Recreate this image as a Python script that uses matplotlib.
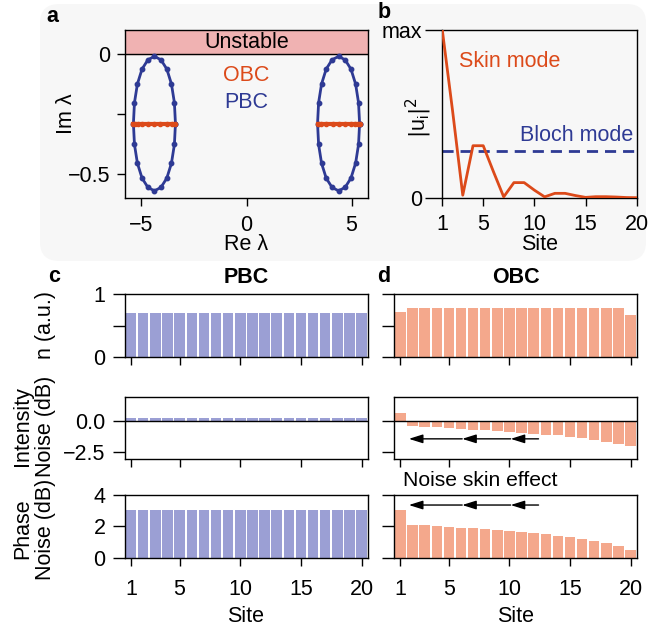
import numpy as np
import matplotlib
matplotlib.use("Agg")
import matplotlib.pyplot as plt
from matplotlib.patches import FancyBboxPatch

FS = 15.5
plt.rcParams['font.family'] = ['Liberation Sans', 'DejaVu Sans']
plt.rcParams['font.size'] = FS
plt.rcParams['axes.linewidth'] = 1.0
plt.rcParams['xtick.major.width'] = 1.0
plt.rcParams['ytick.major.width'] = 1.0

# ---------------- data ----------------
# panel a: eigenvalues (PBC ellipses and OBC segments)
pbc_left_re = [-3.38, -3.43, -3.57, -3.79, -4.07, -4.38, -4.69, -4.97, -5.19, -5.33,
               -5.38, -5.33, -5.19, -4.97, -4.69, -4.38, -4.07, -3.79, -3.57, -3.43]
pbc_im = [-0.29, -0.203, -0.125, -0.063, -0.024, -0.01, -0.024, -0.063, -0.125, -0.203,
          -0.29, -0.377, -0.455, -0.517, -0.556, -0.57, -0.556, -0.517, -0.455, -0.377]
pbc_right_re = [5.38, 5.33, 5.19, 4.97, 4.69, 4.38, 4.07, 3.79, 3.57, 3.43,
                3.38, 3.43, 3.57, 3.79, 4.07, 4.38, 4.69, 4.97, 5.19, 5.33]
obc_left_re = [-5.38, -5.3, -5.15, -4.95, -4.7, -4.4, -4.1, -3.8, -3.55, -3.4]
obc_right_re = [3.4, 3.55, 3.8, 4.1, 4.4, 4.7, 4.95, 5.15, 5.3, 5.38]
obc_im = [-0.29] * 10

# panel b: mode profiles
sites = list(range(1, 21))
skin_mode = [1.0, 0.52, 0.015, 0.31, 0.31, 0.155, 0.005, 0.09, 0.09, 0.045,
             0.005, 0.026, 0.026, 0.013, 0.002, 0.006, 0.006, 0.004, 0.001, 0.0]
bloch_mode = 0.278

# panels c/d
n_pbc = [0.70] * 20
n_obc = [0.72, 0.785, 0.785, 0.785, 0.785, 0.785, 0.785, 0.785, 0.785, 0.785,
         0.785, 0.785, 0.785, 0.785, 0.785, 0.785, 0.785, 0.785, 0.78, 0.67]
int_pbc = [0.32] * 20
int_obc = [0.65, -0.40, -0.42, -0.48, -0.54, -0.59, -0.65, -0.70, -0.78, -0.83,
           -0.89, -0.97, -1.05, -1.13, -1.24, -1.34, -1.48, -1.64, -1.80, -1.94]
phase_pbc = [3.04] * 20
phase_obc = [3.04, 2.06, 2.08, 2.00, 1.96, 1.91, 1.87, 1.81, 1.77, 1.70,
             1.64, 1.57, 1.49, 1.40, 1.32, 1.19, 1.06, 0.91, 0.74, 0.49]
site_ticks = [1, 5, 10, 15, 20]
arrow_x = [12.4, 10.1, 6.1, 1.7]
arrow_y_int = -1.4
arrow_y_phase = 3.36

# ---------------- style ----------------
BLUE = '#2e3a94'
ORANGE = '#dc4a1a'
PBC_BAR = '#9b9fd4'
OBC_BAR = '#f4a88c'
PINK = '#f0b2b2'
BG = '#f7f7f7'

W, H = 648, 627
fig = plt.figure(figsize=(W / 100, H / 100), dpi=100)


def rect(l, t, r, b):
    return [l / W, 1 - b / H, (r - l) / W, (b - t) / H]


# background box behind top panels
bg = FancyBboxPatch((40 / W, 1 - 261 / H), 606 / W, 257 / H,
                    boxstyle='round,pad=0,rounding_size=0.03',
                    transform=fig.transFigure, facecolor=BG,
                    edgecolor='none', zorder=-10)
fig.patches.append(bg)

# ---------------- panel a ----------------
axa = fig.add_axes(rect(125, 30, 368, 198))
axa.set_facecolor('none')
axa.set_xlim(-5.78, 5.78)
axa.set_ylim(-0.6, 0.1)
axa.axhspan(0, 0.1, color=PINK, zorder=0)
axa.axhline(0, color='k', lw=1.0, zorder=1)
axa.text(0, 0.05, 'Unstable', ha='center', va='center', fontsize=FS)
for re in (pbc_left_re, pbc_right_re):
    axa.plot(re + [re[0]], pbc_im + [pbc_im[0]], color=BLUE, lw=2, marker='o',
             ms=3.2, zorder=3)
for re in (obc_left_re, obc_right_re):
    axa.plot(re, obc_im, color=ORANGE, lw=3, marker='o', ms=3, zorder=4)
axa.text(0, -0.09, 'OBC', color=ORANGE, ha='center', va='center', fontsize=FS)
axa.text(0, -0.2, 'PBC', color=BLUE, ha='center', va='center', fontsize=FS)
axa.set_xticks([-5, 0, 5])
axa.set_yticks([0, -0.25, -0.5])
axa.set_yticklabels(['0', '', '\u22120.5'])
axa.tick_params(axis='x', length=6, pad=6)
axa.tick_params(axis='y', length=6, pad=4.3)

# ---------------- panel b ----------------
axb = fig.add_axes(rect(442.3, 30, 636.7, 197.7))
axb.set_facecolor('none')
axb.plot(sites, skin_mode, color=ORANGE, lw=2, zorder=3)
axb.axhline(bloch_mode, color=BLUE, lw=2, ls=(0, (4, 2.5)), zorder=2)
axb.set_xlim(1, 20)
axb.set_ylim(0, 1)
axb.set_xticks(site_ticks)
axb.set_yticks([0, 1])
axb.set_yticklabels(['0', 'max'])
axb.tick_params(axis='x', length=6, pad=6)
axb.tick_params(axis='y', length=12, pad=2.5)
axb.text(2.6, 0.81, 'Skin mode', color=ORANGE, ha='left', va='center', fontsize=FS)
axb.text(8.6, 0.37, 'Bloch mode', color=BLUE, ha='left', va='center', fontsize=FS)

# ---------------- panels c/d ----------------
rows = [(294, 357.3), (396.7, 459.3), (495, 557.7)]
cols = [(125, 367.7), (394.3, 636.7)]
data = [[n_pbc, int_pbc, phase_pbc], [n_obc, int_obc, phase_obc]]
colors = [PBC_BAR, OBC_BAR]
ylims = [(0, 1), (-3.05, 2.0), (0, 4)]
yticks = [[0, 0.5, 1], [0, -2.5], [0, 2, 4]]
yticklabels = [['0', '', '1'], ['0.0', '\u22122.5'], ['0', '2', '4']]

for ci, (l, r) in enumerate(cols):
    for ri, (t, b) in enumerate(rows):
        ax = fig.add_axes(rect(l, t, r, b))
        ax.bar(sites, data[ci][ri], width=0.86, color=colors[ci], edgecolor='none', zorder=2)
        ax.set_xlim(0.5, 20.5)
        ax.set_ylim(*ylims[ri])
        ax.set_xticks(site_ticks)
        ax.set_yticks(yticks[ri])
        ax.tick_params(axis='x', length=5.5, pad=10)
        ax.tick_params(axis='y', length=8.5, pad=5.5)
        if ci == 0:
            ax.set_yticklabels(yticklabels[ri])
        else:
            ax.set_yticklabels([])
        if ri < 2:
            ax.set_xticklabels([])
        if ri == 1:
            ax.axhline(0, color='k', lw=1.0, zorder=3)
        if ci == 1 and ri in (1, 2):
            yy = arrow_y_int if ri == 1 else arrow_y_phase
            for x0, x1 in zip(arrow_x[:-1], arrow_x[1:]):
                ax.annotate('', xy=(x1, yy), xytext=(x0, yy),
                            arrowprops=dict(arrowstyle='-|>,head_length=0.7,head_width=0.22',
                                            color='k', lw=1.0, shrinkA=0, shrinkB=0,
                                            mutation_scale=12), zorder=4)

# ---------------- texts ----------------
def ftext(x, y, s, **kw):
    fig.text(x / W, 1 - y / H, s, ha=kw.pop('ha', 'center'), va=kw.pop('va', 'center'), **kw)

ftext(67, 114, 'Im \u03bb', rotation=90)
ftext(246.5, 245, 'Re \u03bb')
ftext(419, 118, r'$|\mathregular{u_i}|^2$', rotation=90)
ftext(540, 244, 'Site')
ftext(46, 325, 'n (a.u.)', rotation=90)
ftext(34, 426, 'Intensity\nNoise (dB)', rotation=90, linespacing=1.1)
ftext(34, 529, 'Phase\nNoise (dB)', rotation=90, linespacing=1.1)
ftext(246, 616, 'Site')
ftext(516, 617, 'Site')
ftext(246, 278, 'PBC', fontweight='bold')
ftext(516, 278, 'OBC', fontweight='bold')
ftext(480, 480, 'Noise skin effect', fontsize=15.2)
ftext(52, 16, 'a', fontweight='bold')
ftext(384, 12, 'b', fontweight='bold')
ftext(54, 277, 'c', fontweight='bold')
ftext(384, 277, 'd', fontweight='bold')

fig.savefig('out.png', dpi=100)
